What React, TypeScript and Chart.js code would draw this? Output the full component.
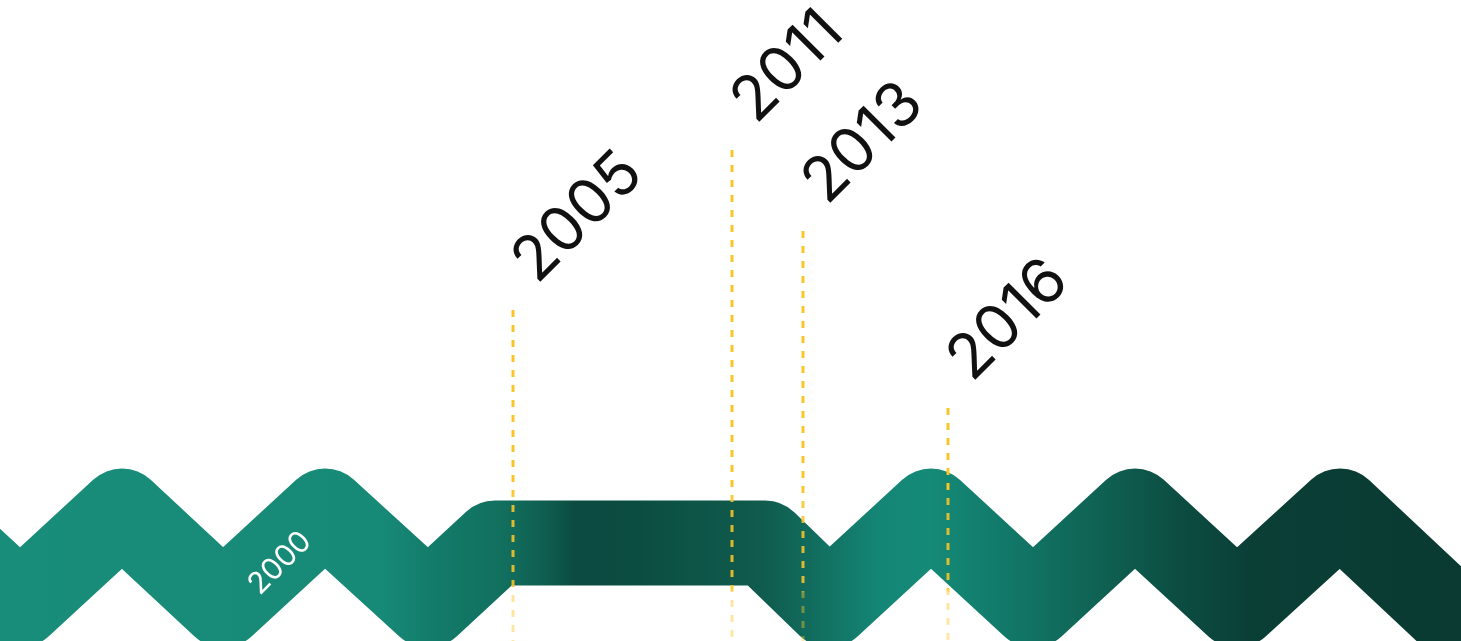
import React, { useEffect, useRef } from "react";
import { Chart, registerables } from "chart.js";

Chart.register(...registerables);

// Timeline ribbon (centre line of the band), horizontal position and height units
const wavePositions = [-82, 20, 122, 223, 325, 428, 495, 765, 829, 931, 1033, 1135, 1237, 1340, 1500];
const waveHeights = [130, 36, 130, 36, 130, 36, 98, 98, 36, 130, 36, 130, 36, 130, -20];

// Milestone years with their marker positions and marker heights
const milestoneYears = ["2005", "2011", "2013", "2016"];
const milestonePositions = [513, 732, 803, 948];
const milestoneHeights = [331, 491, 410, 233];

// Label printed on the ribbon
const ribbonLabel = "2000";
const ribbonLabelPosition = 280;
const ribbonLabelHeight = 78;

const X_MIN = 0;
const X_MAX = 1461;
const Y_MIN = 0;
const Y_MAX = 641;

const ribbonStops: [number, string][] = [
  [0, "#188D79"],
  [0.26, "#178A77"],
  [0.3, "#137A69"],
  [0.342, "#12705F"],
  [0.373, "#0F5E50"],
  [0.394, "#0B4B41"],
  [0.438, "#0C4D42"],
  [0.479, "#0E5548"],
  [0.52, "#0F5B4D"],
  [0.554, "#116B5C"],
  [0.602, "#148676"],
  [0.637, "#158A77"],
  [0.684, "#127A6A"],
  [0.753, "#0F6253"],
  [0.808, "#0C4C41"],
  [0.856, "#0A3F36"],
  [1, "#0A3A32"],
];

function ribbonColor(context: any) {
  const chart = context.chart;
  const area = chart.chartArea;
  if (!area) return "#178A77";
  const g = chart.ctx.createLinearGradient(area.left, 0, area.right, 0);
  ribbonStops.forEach(([o, c]) => g.addColorStop(o, c));
  return g;
}

function markerColor(context: any) {
  const chart = context.chart;
  const area = chart.chartArea;
  if (!area) return "#F9C52B";
  const g = chart.ctx.createLinearGradient(0, area.top, 0, area.bottom);
  g.addColorStop(0, "rgba(250,197,40,1)");
  g.addColorStop(0.76, "rgba(250,197,40,1)");
  g.addColorStop(0.78, "rgba(250,197,40,0.88)");
  g.addColorStop(0.92, "rgba(250,197,40,0.88)");
  g.addColorStop(0.925, "rgba(250,197,40,0.45)");
  g.addColorStop(1, "rgba(250,197,40,0.4)");
  return g;
}

const labelPlugin = {
  id: "milestoneLabels",
  afterDatasetsDraw(chart: any) {
    const { ctx, scales } = chart;
    const xs = scales.x;
    const ys = scales.y;
    ctx.save();
    // milestone labels
    ctx.fillStyle = "#111111";
    ctx.font = '400 62px Inter';
    ctx.textAlign = "left";
    ctx.textBaseline = "alphabetic";
    milestoneYears.forEach((label, i) => {
      const px = xs.getPixelForValue(milestonePositions[i]) + 24;
      const py = ys.getPixelForValue(milestoneHeights[i]) - 25;
      ctx.save();
      ctx.translate(px, py);
      ctx.rotate(-Math.PI / 4);
      ctx.fillText(label, 0, 0);
      ctx.restore();
    });
    // ribbon label
    ctx.fillStyle = "#FFFFFF";
    ctx.font = '400 30px Inter';
    ctx.textAlign = "center";
    ctx.textBaseline = "middle";
    ctx.translate(xs.getPixelForValue(ribbonLabelPosition), ys.getPixelForValue(ribbonLabelHeight));
    ctx.rotate(-Math.PI / 4);
    ctx.fillText(ribbonLabel, 0, 0);
    ctx.restore();
  },
};

export default function App() {
  const canvasRef = useRef<HTMLCanvasElement | null>(null);

  useEffect(() => {
    if (!canvasRef.current) return;
    const markerSets = milestonePositions.map((pos, i) => ({
      type: "line" as const,
      label: milestoneYears[i],
      data: [
        { x: pos, y: milestoneHeights[i] },
        { x: pos, y: Y_MIN - 10 },
      ],
      borderColor: markerColor,
      borderWidth: 3,
      borderDash: [7, 8],
      pointRadius: 0,
      order: 0,
      tension: 0,
    }));
    const chart = new Chart(canvasRef.current, {
      type: "line",
      data: {
        datasets: [
          ...markerSets,
          {
            label: "timeline",
            data: wavePositions.map((x, i) => ({ x, y: waveHeights[i] })),
            borderColor: ribbonColor,
            borderWidth: 85,
            borderJoinStyle: "round",
            borderCapStyle: "butt",
            pointRadius: 0,
            tension: 0,
            fill: false,
            order: 1,
          } as any,
        ],
      },
      options: {
        animation: false,
        responsive: true,
        maintainAspectRatio: false,
        layout: { padding: 0 },
        plugins: { legend: { display: false }, tooltip: { enabled: false } },
        events: [],
        scales: {
          x: { type: "linear", min: X_MIN, max: X_MAX, display: false },
          y: { type: "linear", min: Y_MIN, max: Y_MAX, display: false },
        },
      },
      plugins: [labelPlugin],
    });
    return () => chart.destroy();
  }, []);

  return (
    <div
      style={{
        position: "absolute",
        left: 0,
        top: 0,
        width: "1461px",
        height: "641px",
        background: "#ffffff",
      }}
    >
      <canvas ref={canvasRef} />
    </div>
  );
}
